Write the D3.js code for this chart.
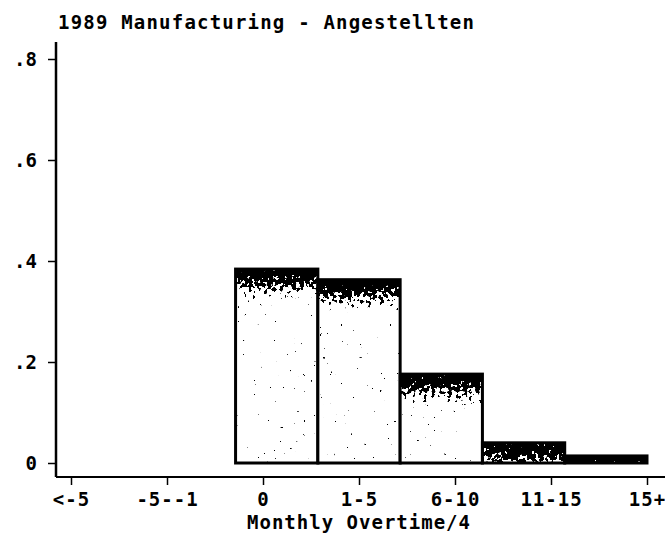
<!DOCTYPE html>
<html>
<head>
<meta charset="utf-8">
<script src="https://cdn.jsdelivr.net/npm/d3@7"></script>
<style>
  body { margin: 0; background: #fff; }
  svg { display: block; }
  text { font-family: "DejaVu Sans Mono", monospace; font-weight: bold; fill: #000; }
</style>
</head>
<body>
<svg width="665" height="536"></svg>
<script>
// data
const xLabels = ["<-5", "-5--1", "0", "1-5", "6-10", "11-15", "15+"];
const fractions = [0, 0, 0.384, 0.363, 0.176, 0.040, 0.014];
const yTicks = [0, 0.2, 0.4, 0.6, 0.8];
const yLabels = ["0", ".2", ".4", ".6", ".8"];

const svg = d3.select("svg");
const defs = svg.append("defs");

// scales: categories 0..6 on x, 7 bins across that range
const x = d3.scaleLinear().domain([0, 6]).range([71, 647]);
const y = d3.scaleLinear().domain([0, 0.8]).range([463, 59]);
const binW = 6 / 7;
const band = 30; // px of dark shading at the top of a bar

// dark fade at top of each bar
const grad = defs.append("linearGradient")
  .attr("id", "fade").attr("x1", 0).attr("y1", 0).attr("x2", 0).attr("y2", 1);
grad.append("stop").attr("offset", "0%").attr("stop-color", "#000").attr("stop-opacity", 1);
grad.append("stop").attr("offset", "18%").attr("stop-color", "#000").attr("stop-opacity", 1);
grad.append("stop").attr("offset", "100%").attr("stop-color", "#000").attr("stop-opacity", 0);

// grainy threshold filter for the fade band
let f = defs.append("filter").attr("id", "grain")
  .attr("x", 0).attr("y", 0).attr("width", 1).attr("height", 1)
  .attr("color-interpolation-filters", "sRGB");
f.append("feTurbulence").attr("type", "fractalNoise").attr("baseFrequency", 0.25)
  .attr("numOctaves", 3).attr("seed", 4).attr("result", "noise");
f.append("feColorMatrix").attr("in", "noise").attr("type", "matrix")
  .attr("values", "0 0 0 0 0  0 0 0 0 0  0 0 0 0 0  1 0 0 0 0").attr("result", "na");
f.append("feComposite").attr("in", "SourceGraphic").attr("in2", "na")
  .attr("operator", "arithmetic").attr("k1", 0).attr("k2", 1).attr("k3", 2).attr("k4", -1)
  .attr("result", "sum");
f.append("feColorMatrix").attr("in", "sum").attr("type", "matrix")
  .attr("values", "0 0 0 0 0  0 0 0 0 0  0 0 0 0 0  0 0 0 30 -15");

// sparse speckles inside the bars
let s = defs.append("filter").attr("id", "speck")
  .attr("x", 0).attr("y", 0).attr("width", 1).attr("height", 1)
  .attr("color-interpolation-filters", "sRGB");
s.append("feTurbulence").attr("type", "fractalNoise").attr("baseFrequency", 0.3)
  .attr("numOctaves", 2).attr("seed", 11).attr("result", "noise");
s.append("feColorMatrix").attr("in", "noise").attr("type", "matrix")
  .attr("values", "0 0 0 0 0  0 0 0 0 0  0 0 0 0 0  30 0 0 0 -23.5");

const bins = fractions.map((v, i) => ({ i: i, v: v }))
  .filter(d => d.v > 0);

const bx = d => x(d.i * binW);
const bw = d => x((d.i + 1) * binW) - x(d.i * binW);
const by = d => y(d.v);
const bh = d => y(0) - y(d.v);

defs.selectAll("clipPath").data(bins).join("clipPath")
  .attr("id", d => "clip" + d.i)
  .append("rect")
  .attr("x", bx).attr("y", by).attr("width", bw).attr("height", bh);

const bars = svg.append("g").selectAll("g").data(bins).join("g");

bars.append("rect")
  .attr("x", bx).attr("y", by).attr("width", bw).attr("height", bh)
  .attr("fill", "#fff");

bars.append("rect")
  .attr("x", bx).attr("y", by).attr("width", bw).attr("height", bh)
  .attr("fill", "#fff")
  .attr("filter", "url(#speck)");

bars.append("g")
  .attr("clip-path", d => "url(#clip" + d.i + ")")
  .append("rect")
  .attr("x", bx).attr("y", by).attr("width", bw).attr("height", band)
  .attr("fill", "url(#fade)")
  .attr("filter", "url(#grain)");

bars.append("rect")
  .attr("x", bx).attr("y", by).attr("width", bw).attr("height", bh)
  .attr("fill", "none")
  .attr("stroke", "#000")
  .attr("stroke-width", 3);

// axis lines
svg.append("line").attr("x1", 56).attr("x2", 56).attr("y1", 42).attr("y2", 477)
  .attr("stroke", "#000").attr("stroke-width", 2.5);
svg.append("line").attr("x1", 56).attr("x2", 665).attr("y1", 477).attr("y2", 477)
  .attr("stroke", "#000").attr("stroke-width", 2);

// y axis
const yAxis = svg.append("g").attr("transform", "translate(56,0)")
  .call(d3.axisLeft(y).tickValues(yTicks).tickSize(8).tickPadding(11)
    .tickFormat((d, i) => yLabels[i]));
yAxis.select(".domain").remove();
yAxis.selectAll("line").attr("stroke-width", 1.5);
yAxis.selectAll("text").attr("font-size", 19).attr("font-family", "DejaVu Sans Mono")
  .attr("font-weight", "bold").attr("dy", "0.36em");

// x axis
const xAxis = svg.append("g").attr("transform", "translate(0,477)")
  .call(d3.axisBottom(x).tickValues(d3.range(7)).tickSize(8)
    .tickFormat(i => xLabels[i]));
xAxis.select(".domain").remove();
xAxis.selectAll("line").attr("stroke-width", 1.5);
xAxis.selectAll("text").attr("font-size", 19).attr("font-family", "DejaVu Sans Mono")
  .attr("font-weight", "bold").attr("letter-spacing", 1).attr("y", 29).attr("dy", 0);

// titles
svg.append("text").attr("x", 58).attr("y", 29)
  .attr("font-size", 19).attr("letter-spacing", 1.2)
  .text("1989 Manufacturing - Angestellten");

svg.append("text").attr("x", 359).attr("y", 529)
  .attr("text-anchor", "middle")
  .attr("font-size", 19).attr("letter-spacing", 1)
  .text("Monthly Overtime/4");
</script>
</body>
</html>
